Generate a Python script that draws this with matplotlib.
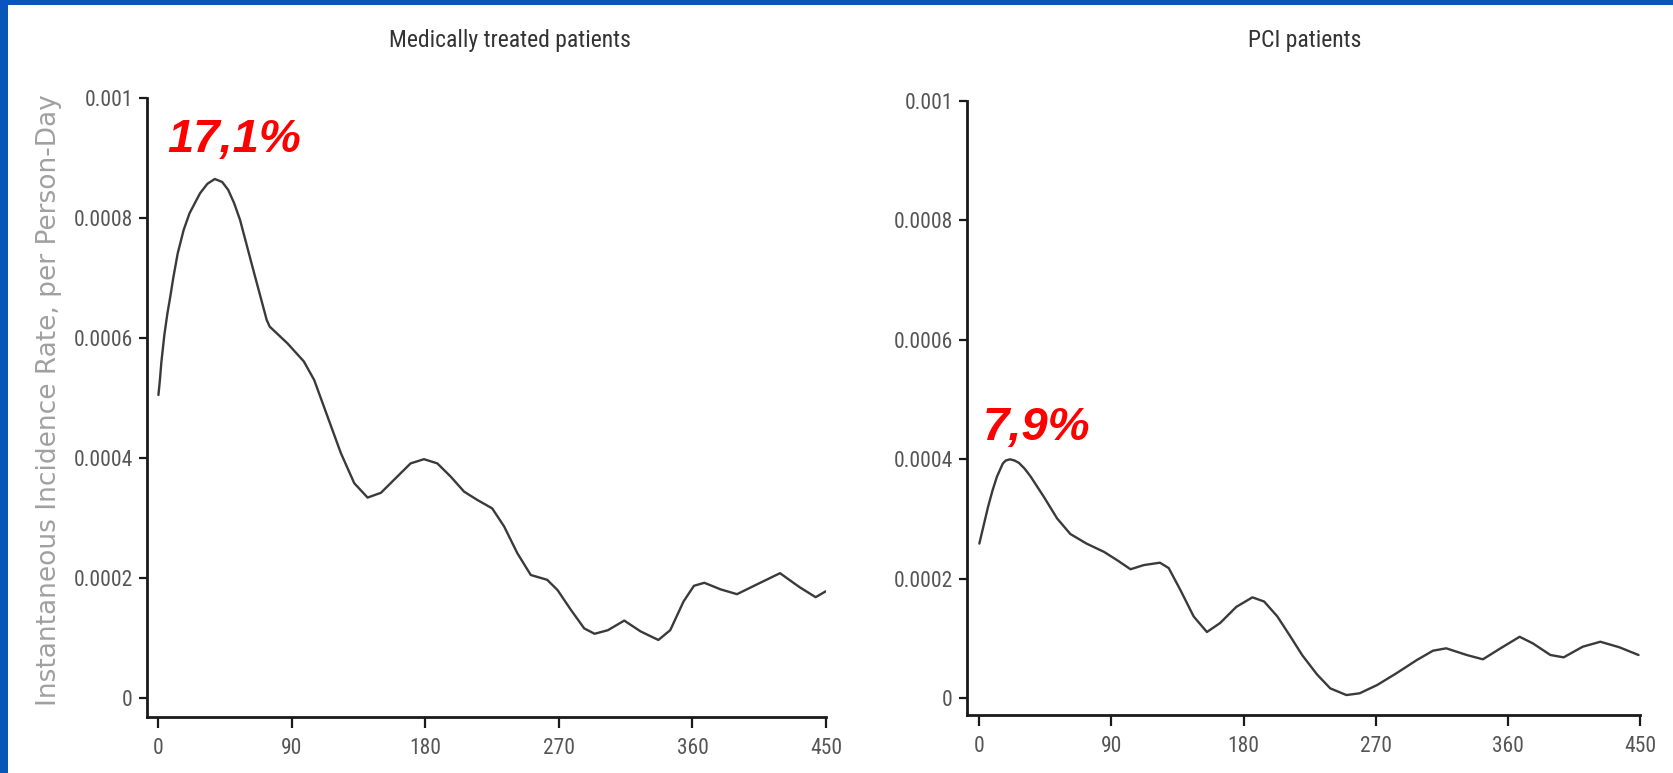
import matplotlib
matplotlib.use("Agg")
import matplotlib.pyplot as plt
from matplotlib import font_manager
from matplotlib.patches import Rectangle

# ---- data (days since discharge, rate per person-day) ----
med_days = [0, 1, 2, 4, 6, 8, 10, 13, 17, 21, 28, 33, 38, 43, 47, 51, 55, 64,
            73, 75, 87, 98, 105, 114, 123, 132, 141, 150, 161, 170, 179, 188,
            197, 206, 215, 225, 233, 242, 251, 262, 269, 278, 287, 294, 303,
            314, 325, 337, 345, 354, 361, 368, 379, 390, 404, 419, 432, 443,
            450]
med_rate = [0.000505, 0.00053, 0.00056, 0.000605, 0.00064, 0.000669, 0.0007,
            0.000741, 0.00078, 0.000808, 0.000841, 0.000857, 0.000865,
            0.00086, 0.000847, 0.000825, 0.000797, 0.000713, 0.00063,
            0.000619, 0.000591, 0.000561, 0.00053, 0.000469, 0.000408,
            0.000358, 0.000334, 0.000342, 0.000369, 0.000391, 0.000398,
            0.000391, 0.000369, 0.000344, 0.00033, 0.000316, 0.000286,
            0.000241, 0.000205, 0.000197, 0.00018, 0.000147, 0.000116,
            0.000107, 0.000113, 0.000129, 0.000111, 0.0000967, 0.000113,
            0.000161, 0.000187, 0.000192, 0.000181, 0.000173, 0.00019,
            0.000208, 0.000185, 0.000168, 0.000178]

pci_days = [0, 3, 6, 9, 12, 16, 18, 21, 24, 27, 31, 35, 44, 53, 62, 73, 85,
            94, 103, 112, 123, 129, 137, 146, 155, 164, 175, 186, 194, 203,
            212, 220, 230, 239, 250, 259, 271, 284, 298, 309, 318, 332, 343,
            355, 368, 377, 389, 398, 411, 423, 436, 449]
pci_rate = [0.000259, 0.00029, 0.000321, 0.000348, 0.000371, 0.000393,
            0.000398, 0.0004, 0.000398, 0.000394, 0.000384, 0.000371,
            0.000337, 0.000301, 0.000275, 0.000259, 0.000245, 0.000231,
            0.000216, 0.000223, 0.000227, 0.000218, 0.000181, 0.000137,
            0.000111, 0.000126, 0.000153, 0.000169, 0.000162, 0.000137,
            0.000103, 0.000072, 0.00004, 0.0000167, 0.0000055, 0.0000084,
            0.0000223, 0.0000418, 0.0000641, 0.0000797, 0.0000837,
            0.0000725, 0.0000653, 0.0000837, 0.000103, 0.000092, 0.0000725,
            0.0000686, 0.0000864, 0.0000947, 0.0000854, 0.0000725]

x_ticks = [0, 90, 180, 270, 360, 450]
y_ticks = [0, 0.0002, 0.0004, 0.0006, 0.0008, 0.001]
y_tick_labels = ["0", "0.0002", "0.0004", "0.0006", "0.0008", "0.001"]

titles = ["Medically treated patients", "PCI patients"]
percent_labels = ["17,1%", "7,9%"]
y_label = "Instantaneous Incidence Rate, per Person-Day"


def find_narrow_font():
    """Return FontProperties of a condensed sans font, or None."""
    wanted = ["Liberation Sans Narrow", "Arial Narrow", "Roboto Condensed",
              "Open Sans Condensed", "DejaVu Sans Condensed"]
    entries = font_manager.fontManager.ttflist
    for name in wanted:
        for f in entries:
            if f.name == name and f.style == "normal" and f.weight in (400, "normal", "regular"):
                return font_manager.FontProperties(fname=f.fname)
    for f in entries:
        if f.style != "normal" or f.weight not in (400, "normal", "regular"):
            continue
        if "condensed" in str(f.stretch) or "Condensed" in f.fname or "Narrow" in f.fname:
            return font_manager.FontProperties(fname=f.fname)
    return None


narrow_fp = find_narrow_font()
if narrow_fp is None:
    narrow_fp = font_manager.FontProperties(family="Liberation Sans")
    tick_size, title_size = 14, 15.5
else:
    tick_size, title_size = 15.5, 17

W, H = 1674, 773
fig = plt.figure(figsize=(W / 100, H / 100), dpi=100)
fig.patch.set_facecolor("white")


def px_rect(x0, y_top, x1, y_bottom):
    # figure rectangle from pixel edges
    return [x0 / W, (H - y_bottom) / H, (x1 - x0) / W, (y_bottom - y_top) / H]


ax_med = fig.add_axes(px_rect(146.7, 98, 826, 716.7))
ax_pci = fig.add_axes(px_rect(966.7, 100.8, 1640, 715))

panels = [
    (ax_med, med_days, med_rate, (-7.9, 450), (-0.0000312, 0.001), (6.0, 0.00091)),
    (ax_pci, pci_days, pci_rate, (-8.6, 450), (-0.0000279, 0.001), (2.0, 0.000432)),
]

for i, (ax, days, rate, xlim, ylim, lab_pos) in enumerate(panels):
    ax.plot(days, rate, color="#3a3a3a", lw=1.7, solid_joinstyle="round",
            solid_capstyle="round")
    ax.set_xlim(*xlim)
    ax.set_ylim(*ylim)
    for side in ("top", "right"):
        ax.spines[side].set_visible(False)
    for side in ("left", "bottom"):
        ax.spines[side].set_linewidth(2)
        ax.spines[side].set_color("#1a1a1a")
    ax.set_xticks(x_ticks)
    ax.set_xticklabels([str(t) for t in x_ticks])
    ax.set_yticks(y_ticks)
    ax.set_yticklabels(y_tick_labels)
    ax.tick_params(axis="x", direction="out", length=8, width=1.6,
                   color="#1a1a1a", pad=7, labelcolor="#555555")
    ax.tick_params(axis="y", direction="out", length=6, width=1.6,
                   color="#1a1a1a", pad=4, labelcolor="#555555")
    for lab in ax.get_xticklabels() + ax.get_yticklabels():
        lab.set_fontproperties(narrow_fp)
        lab.set_fontsize(tick_size)
    ax.set_facecolor("none")

    # red percentages
    ax.text(lab_pos[0], lab_pos[1], percent_labels[i], color="#ff0000",
            fontsize=34, fontweight="bold", fontstyle="italic",
            family="Liberation Sans", ha="left", va="baseline")

# panel titles
for x_px, title in zip([510, 1305], titles):
    t = fig.text(x_px / W, 1 - 47 / H, title, ha="center", va="baseline",
                 color="#333333", fontproperties=narrow_fp)
    t.set_fontsize(title_size)

# shared y label
fig.text(49 / W, 1 - 400 / H, y_label, rotation=90, ha="center", va="center",
         fontsize=19, color="#a0a0a0", family="DejaVu Sans")

# blue frame strips at the top and left edge
blue = "#0a56b8"
fig.add_artist(Rectangle((0, 1 - 5 / H), 1, 5 / H, transform=fig.transFigure,
                         color=blue, lw=0))
fig.add_artist(Rectangle((0, 0), 8 / W, 1, transform=fig.transFigure,
                         color=blue, lw=0))

fig.savefig("out.png", dpi=100)
